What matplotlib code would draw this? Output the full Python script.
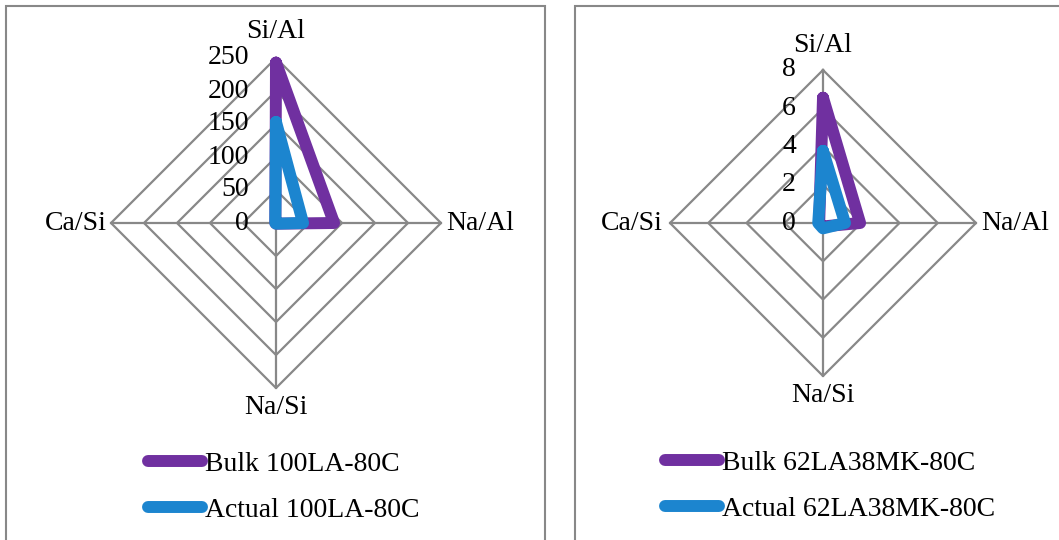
import numpy as np
import matplotlib
matplotlib.use("Agg")
import matplotlib.pyplot as plt
from matplotlib.patches import Rectangle

plt.rcParams['font.family'] = ['Liberation Serif', 'DejaVu Serif']

# Radar axes (clockwise from the top)
categories = ["Si/Al", "Na/Al", "Na/Si", "Ca/Si"]

# Panel 1: 100LA-80C
left_series = ["Bulk 100LA-80C", "Actual 100LA-80C"]
left_bulk = [243, 88, 1, 1]
left_actual = [153, 41, 1, 1]
left_ticks = [0, 50, 100, 150, 200, 250]

# Panel 2: 62LA38MK-80C
right_series = ["Bulk 62LA38MK-80C", "Actual 62LA38MK-80C"]
right_bulk = [6.55, 1.94, 0.18, 0.2]
right_actual = [3.77, 1.15, 0.28, 0.25]
right_ticks = [0, 2, 4, 6, 8]

PURPLE = "#7030A0"
BLUE = "#1C85CF"
GRID = "#888888"
FS = 20

W, H = 1059, 540
fig = plt.figure(figsize=(W / 100, H / 100), dpi=100)

# panel frames
for x0, x1 in [(6, 545), (575, 1070)]:
    fig.patches.append(Rectangle((x0 / W, -0.05), (x1 - x0) / W, (H - 6) / H + 0.05,
                                 transform=fig.transFigure, fill=False,
                                 edgecolor=GRID, linewidth=1.5))


def radar(cx, cy, rad, ticks, bulk, actual, names, lab_off, leg_x, leg_y):
    ax = fig.add_axes([(cx - rad) / W, (H - cy - rad) / H, 2 * rad / W, 2 * rad / H],
                      projection='polar')
    ax.set_theta_zero_location('N')
    ax.set_theta_direction(-1)
    rmax = ticks[-1]
    ax.set_ylim(0, rmax)
    ax.set_xticks([])
    ax.set_yticks([])
    ax.grid(False)
    ax.spines['polar'].set_visible(False)
    ax.patch.set_visible(False)

    theta = np.deg2rad(np.arange(len(categories)) * 360 / len(categories))
    th_closed = np.append(theta, theta[0])

    # polygon gridlines and spokes
    for lv in ticks[1:]:
        ax.plot(th_closed, [lv] * len(th_closed), color=GRID, lw=1.6, clip_on=False, zorder=1)
    for t in theta:
        ax.plot([t, t], [0, rmax], color=GRID, lw=1.6, clip_on=False, zorder=1)

    # value labels along the first axis
    for lv in ticks:
        ax.annotate(f"{lv}", xy=(0, lv), xytext=(-27, 0), textcoords='offset pixels',
                    ha='right', va='center', fontsize=FS, annotation_clip=False)

    # category labels
    aligns = [('center', 'center'), ('left', 'center'), ('center', 'center'), ('right', 'center')]
    for t, name, (ha, va), off in zip(theta, categories, aligns, lab_off):
        ax.annotate(name, xy=(t, rmax), xytext=off, textcoords='offset pixels',
                    ha=ha, va=va, fontsize=FS, annotation_clip=False)

    lines = []
    for vals, col, name in [(bulk, PURPLE, names[0]), (actual, BLUE, names[1])]:
        v = np.append(vals, vals[0])
        ln, = ax.plot(th_closed, v, color=col, lw=8.6, solid_joinstyle='round',
                      solid_capstyle='round', clip_on=False, zorder=3, label=name)
        lines.append(ln)

    fig.legend(handles=lines, loc='center left',
               bbox_to_anchor=(leg_x / W, 1 - leg_y / H), frameon=False,
               fontsize=FS, handlelength=1.95, handletextpad=0.1,
               labelspacing=0.75, borderpad=0, borderaxespad=0)
    return ax


radar(276, 223, 165, left_ticks, left_bulk, left_actual, left_series,
      [(0, 26), (5, 0), (0, -20), (-4, 0)], 148, 487)
radar(823, 223, 153, right_ticks, right_bulk, right_actual, right_series,
      [(0, 24), (5, 0), (0, -20), (-7, 0)], 665, 486)

fig.savefig("out.png", dpi=100)
